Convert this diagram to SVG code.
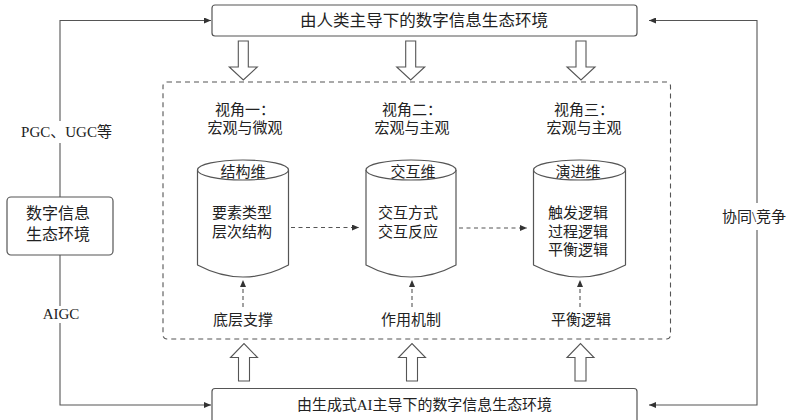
<svg xmlns="http://www.w3.org/2000/svg" width="789" height="420" viewBox="0 0 789 420">
<style>
text{font-family:"Liberation Serif","Noto Sans CJK SC",serif;font-size:15px;fill:#222;text-anchor:middle;dominant-baseline:central}
.box{fill:#fff;stroke:#555;stroke-width:1.2}
.ln{fill:none;stroke:#555;stroke-width:1.1}
.dash{fill:none;stroke:#555;stroke-width:1.1;stroke-dasharray:5,4}
.blk{fill:#fff;stroke:#555;stroke-width:1.1;stroke-linejoin:miter}
</style>
<defs>
<marker id="ah" markerUnits="userSpaceOnUse" markerWidth="8" markerHeight="6" refX="7" refY="3" orient="auto">
<path d="M0,0 L7,3 L0,6 z" fill="#333"/>
</marker>
</defs>
<rect width="789" height="420" fill="#fff"/>

<g id="frame">
<rect class="dash" x="163" y="82" width="507.5" height="257" rx="4"/>
</g>

<g id="top-env">
<rect class="box" x="212" y="5" width="425" height="31" rx="3"/>
<text x="424" y="20.5" style="font-size:16px" textLength="248" lengthAdjust="spacingAndGlyphs">由人类主导下的数字信息生态环境</text>
</g>

<g id="bottom-env">
<rect class="box" x="212" y="388.5" width="425" height="40" rx="3"/>
<text x="424.5" y="405" textLength="255" lengthAdjust="spacingAndGlyphs">由生成式AI主导下的数字信息生态环境</text>
</g>

<g id="source-env">
<rect class="box" x="7" y="197" width="106" height="58" rx="4"/>
<text x="58" y="213" style="font-size:16px">数字信息</text>
<text x="58" y="234" style="font-size:16px">生态环境</text>
</g>

<g id="view1">
<text x="245" y="110">视角一：</text>
<text x="245" y="127.5">宏观与微观</text>
</g>
<g id="view2">
<text x="412" y="110">视角二：</text>
<text x="412" y="127.5">宏观与主观</text>
</g>
<g id="view3">
<text x="584" y="110">视角三：</text>
<text x="584" y="127.5">宏观与主观</text>
</g>

<g id="cyl-structure">
<path class="box" d="M197.5,170 L197.5,265 Q243,289 288.5,265 L288.5,170"/>
<ellipse class="box" cx="243" cy="170" rx="45.5" ry="10"/>
<text x="243" y="171.5">结构维</text>
<text x="242" y="213">要素类型</text>
<text x="242" y="232">层次结构</text>
</g>
<g id="cyl-interaction">
<path class="box" d="M366,170 L366,265 Q411,289 456,265 L456,170"/>
<ellipse class="box" cx="411" cy="170" rx="45" ry="10"/>
<text x="413" y="171.5">交互维</text>
<text x="408" y="213">交互方式</text>
<text x="408" y="232">交互反应</text>
</g>
<g id="cyl-evolution">
<path class="box" d="M533.5,170 L533.5,265 Q579.5,289 625.5,265 L625.5,170"/>
<ellipse class="box" cx="579.5" cy="170" rx="46" ry="10"/>
<text x="578" y="171.5">演进维</text>
<text x="578" y="213">触发逻辑</text>
<text x="578" y="232">过程逻辑</text>
<text x="578" y="250">平衡逻辑</text>
</g>

<g id="base1"><text x="243" y="320">底层支撑</text></g>
<g id="base2"><text x="411" y="320">作用机制</text></g>
<g id="base3"><text x="581" y="320">平衡逻辑</text></g>

<g id="block-arrows">
<path class="blk" d="M238.3,41 L248.3,41 L248.3,67 L257.3,67 L243.3,80 L229.3,67 L238.3,67 z"/>
<path class="blk" d="M405.7,41 L415.7,41 L415.7,67 L424.7,67 L410.7,80 L396.7,67 L405.7,67 z"/>
<path class="blk" d="M576,41 L586,41 L586,67 L595,67 L581,80 L567,67 L576,67 z"/>
<path class="blk" d="M238.5,381 L249.5,381 L249.5,357.5 L257.5,357.5 L244,343.5 L230.5,357.5 L238.5,357.5 z"/>
<path class="blk" d="M406.5,381 L417.5,381 L417.5,357.5 L425.5,357.5 L412,343.5 L398.5,357.5 L406.5,357.5 z"/>
<path class="blk" d="M575,381 L586,381 L586,357.5 L594,357.5 L580.5,343.5 L567,357.5 L575,357.5 z"/>
</g>

<g id="connectors">
<line class="dash" x1="291" y1="227.5" x2="359" y2="227.5" marker-end="url(#ah)" style="stroke-dasharray:4,3.5"/>
<line class="dash" x1="459" y1="228" x2="527" y2="228" marker-end="url(#ah)" style="stroke-dasharray:4,3.5"/>
<line class="dash" x1="243" y1="307" x2="243" y2="280" marker-end="url(#ah)" style="stroke-dasharray:4,3"/>
<line class="dash" x1="412" y1="307" x2="412" y2="280" marker-end="url(#ah)" style="stroke-dasharray:4,3"/>
<line class="dash" x1="580" y1="307" x2="580" y2="280" marker-end="url(#ah)" style="stroke-dasharray:4,3"/>
<polyline class="ln" points="60,197 60,143"/>
<polyline class="ln" points="60,121 60,20.5 211,20.5" marker-end="url(#ah)"/>
<polyline class="ln" points="60,255 60,306"/>
<polyline class="ln" points="60,323 60,405 211,405" marker-end="url(#ah)"/>
<polyline class="ln" points="757,203 757,20.5 649,20.5" marker-end="url(#ah)"/>
<polyline class="ln" points="757,230 757,405 649,405" marker-end="url(#ah)"/>
</g>

<g id="labels">
<text x="66.5" y="132">PGC、UGC等</text>
<text x="61" y="314">AIGC</text>
<text x="754" y="217">协同\竞争</text>
</g>
</svg>
